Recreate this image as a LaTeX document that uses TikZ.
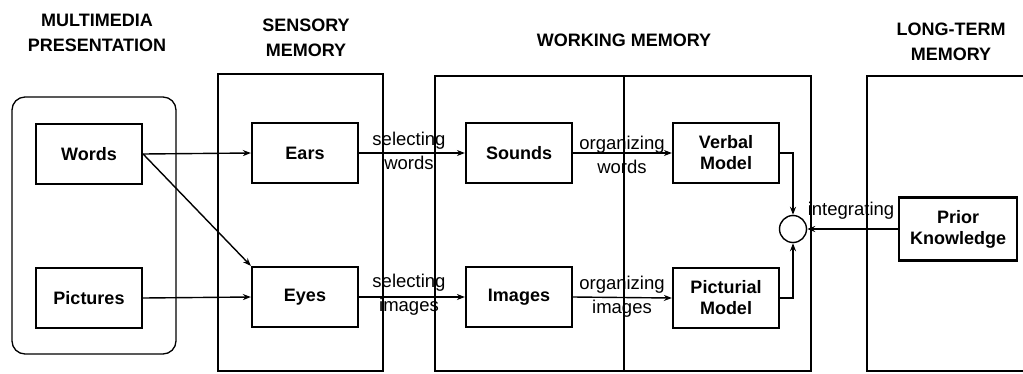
\documentclass[tikz,border=0pt]{standalone}
\usepackage{fontspec}
\setmainfont{Liberation Sans}
\usetikzlibrary{arrows.meta}
\begin{document}
\begin{tikzpicture}[x=1pt,y=-1pt,
  box/.style={draw,line width=2.2pt,minimum width=106pt,minimum height=60pt,inner sep=0pt,
    font=\fontsize{18}{21}\selectfont\bfseries,align=center},
  region/.style={draw,line width=1.3pt},
  title/.style={font=\fontsize{18}{25}\selectfont\bfseries,align=center,inner sep=0pt},
  lab/.style={font=\fontsize{18.5}{24}\selectfont,align=center,inner sep=0pt},
  arr/.style={line width=1.4pt,-{Stealth[length=8pt,width=6pt]}}]
\useasboundingbox (0,0) rectangle (1023,373);
% regions
\draw[region,rounded corners=13pt] (12,97) rectangle (176,354);
\draw[region] (218,74) rectangle (383,371);
\draw[region] (435,76) rectangle (811,371);
\draw[region] (624,76) -- (624,371);
\draw[region] (1024,76) -- (867,76) -- (867,371) -- (1024,371);
% titles
\node[title] (t1) at (97,33) {MULTIMEDIA\\PRESENTATION};
\node[title] (t2) at (306,38) {SENSORY\\MEMORY};
\node[title] (t3) at (624,40) {WORKING MEMORY};
\node[title] (t4) at (951,42) {LONG-TERM\\MEMORY};
% boxes
\node[box] (words) at (89,154) {Words};
\node[box] (pics) at (89,298) {Pictures};
\node[box] (ears) at (305,153) {Ears};
\node[box] (eyes) at (305,297) {Eyes};
\node[box] (sounds) at (519,153) {Sounds};
\node[box] (images) at (519,297) {Images};
\node[box] (verbal) at (726,153) {Verbal\\Model};
\node[box] (pict) at (726,298) {Picturial\\Model};
\node[box,minimum width=118pt,minimum height=63pt] (prior) at (958,229) {Prior\\Knowledge};
\node[draw,line width=1.4pt,circle,minimum size=27pt,inner sep=0pt] (circ) at (793,229) {};
% connectors
\draw[arr] (words.east) -- (ears.west);
\draw[arr] (words.east) -- (eyes.north west);
\draw[arr] (pics.east) -- (eyes.west);
\draw[arr] (ears.east) -- (sounds.west);
\draw[arr] (eyes.east) -- (images.west);
\draw[arr] (sounds.east) -- (verbal.west);
\draw[arr] (images.east) -- (pict.west);
\draw[arr] (verbal.east) -| (circ.north);
\draw[arr] (pict.east) -| (circ.south);
\draw[arr] (prior.west) -- (circ.east);
% labels
\node[lab] (l1) at (409,151) {selecting\\words};
\node[lab] (l2) at (409,295) {selecting\\images};
\node[lab] (l3) at (622,155) {organizing\\words};
\node[lab] (l4) at (622,297) {organizing\\images};
\node[lab] (l5) at (851,211) {integrating};
\end{tikzpicture}
\end{document}
